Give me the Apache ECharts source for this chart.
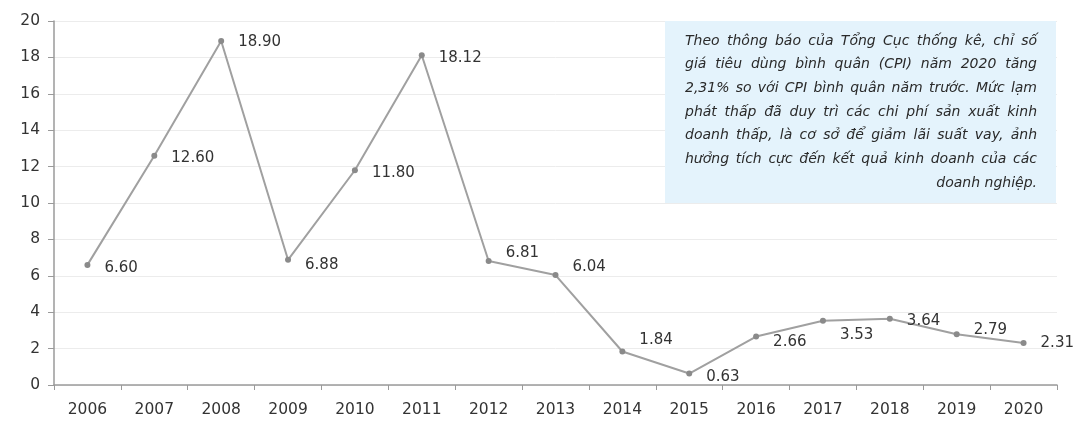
<!DOCTYPE html>
<html>
<head>
<meta charset="utf-8">
<script src="https://cdn.jsdelivr.net/npm/echarts@6/dist/echarts.min.js"></script>
<style>
html,body{margin:0;padding:0;background:#fff;}
#chart{width:1075px;height:422px;}
</style>
</head>
<body>
<div id="chart"></div>
<script>
const years = ['2006','2007','2008','2009','2010','2011','2012','2013','2014','2015','2016','2017','2018','2019','2020'];
const cpi = [6.60, 12.60, 18.90, 6.88, 11.80, 18.12, 6.81, 6.04, 1.84, 0.63, 2.66, 3.53, 3.64, 2.79, 2.31];
const yTicks = [0, 20, 2]; // min, max, interval
const noteLines = [
  'Theo thông báo của Tổng Cục thống kê, chỉ số',
  'giá tiêu dùng bình quân (CPI) năm 2020 tăng',
  '2,31% so với CPI bình quân năm trước. Mức lạm',
  'phát thấp đã duy trì các chi phí sản xuất kinh',
  'doanh thấp, là cơ sở để giảm lãi suất vay, ảnh',
  'hưởng tích cực đến kết quả kinh doanh của các',
  'doanh nghiệp.'
];

// label placement tweaks (style)
const labelDy = [3, 2, 1, 5, 3, 3, -8, -8, -11, 4, 6, 14, 2, -4, 0];

const FONT = '"DejaVu Sans", sans-serif';
const chart = echarts.init(document.getElementById('chart'));

// justified note text
const boxX = 665, boxY = 21, boxW = 391, boxH = 182;
const textL = 685, textR = 1037, line0 = 41, lineH = 23.7;
const noteFont = 'italic 14px ' + FONT;
const ctx = document.createElement('canvas').getContext('2d');
ctx.font = noteFont;
const noteEls = [];
noteLines.forEach((ln, i) => {
  const y = line0 + i * lineH;
  if (i === noteLines.length - 1) {
    noteEls.push({type:'text', z: 20, x:textR, y:y, style:{text:ln, font:noteFont, fill:'#2a2a2a', textAlign:'right', textVerticalAlign:'middle'}});
    return;
  }
  const words = ln.split(' ');
  const widths = words.map(w => ctx.measureText(w).width);
  const total = widths.reduce((a,b)=>a+b,0);
  const gap = (textR - textL - total) / (words.length - 1);
  let x = textL;
  words.forEach((w, k) => {
    noteEls.push({type:'text', z: 20, x:x, y:y, style:{text:w, font:noteFont, fill:'#2a2a2a', textAlign:'left', textVerticalAlign:'middle'}});
    x += widths[k] + gap;
  });
});

const option = {
  animation: false,
  backgroundColor: '#ffffff',
  grid: {left: 54, right: 18, top: 21, bottom: 37, containLabel: false},
  xAxis: {
    type: 'category',
    data: years,
    boundaryGap: true,
    axisLine: {show: true, lineStyle: {color: '#9a9a9a', width: 1.5}},
    axisTick: {show: true, length: 5, lineStyle: {color: '#9a9a9a'}},
    axisLabel: {color: '#333', fontFamily: FONT, fontSize: 15.5, margin: 17},
    splitLine: {show: false}
  },
  yAxis: {
    type: 'value',
    min: yTicks[0], max: yTicks[1], interval: yTicks[2],
    axisLine: {show: true, lineStyle: {color: '#9a9a9a', width: 1.5}},
    axisTick: {show: true, length: 6, lineStyle: {color: '#9a9a9a'}},
    axisLabel: {color: '#333', fontFamily: FONT, fontSize: 15.5, margin: 14},
    splitLine: {show: true, lineStyle: {color: '#ececec', width: 1}}
  },
  series: [{
    type: 'line',
    data: cpi.map((v, i) => ({value: v, label: {offset: [0, labelDy[i]]}})),
    symbol: 'circle',
    symbolSize: 6,
    itemStyle: {color: '#8a8a8a'},
    lineStyle: {color: '#a0a0a0', width: 2},
    label: {
      show: true,
      position: 'right',
      distance: 14,
      color: '#333',
      fontFamily: FONT,
      fontSize: 15,
      formatter: p => p.value.toFixed(2)
    },
    z: 3
  }],
  graphic: [
    {type: 'rect', shape: {x: boxX, y: boxY, width: boxW, height: boxH}, style: {fill: '#e4f3fc'}, z: 10}
  ].concat(noteEls)
};
chart.setOption(option);
</script>
</body>
</html>
